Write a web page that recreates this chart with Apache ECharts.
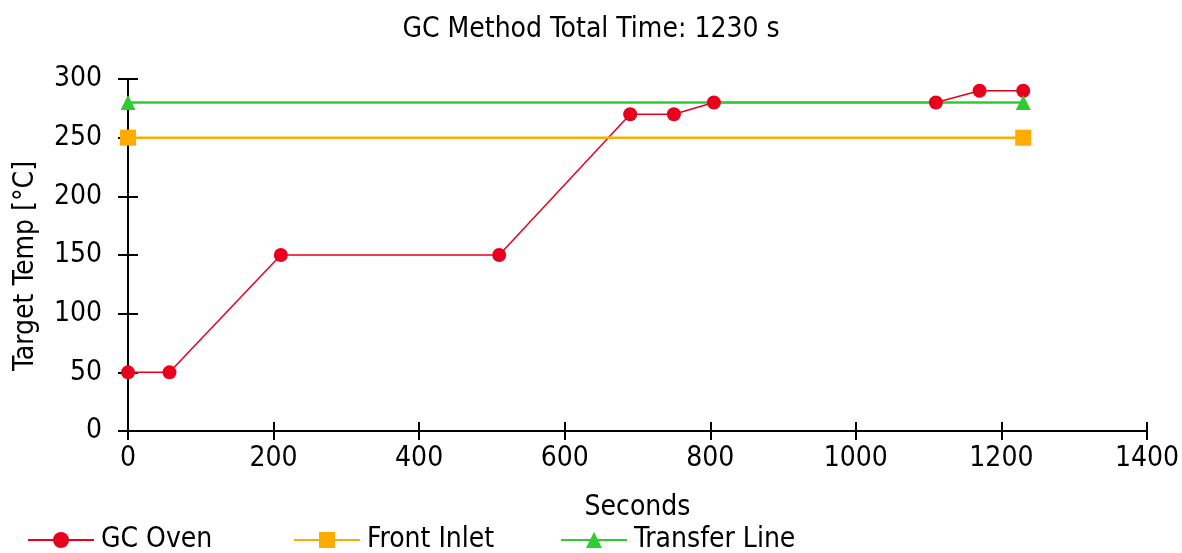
<!DOCTYPE html>
<html>
<head>
    <meta charset="UTF-8">
    <title>GC Method</title>
    <style>
        html, body { margin: 0; padding: 0; background: #fff; }
        #chart { width: 1182px; height: 553px; }
    </style>
    <script src="https://cdn.jsdelivr.net/npm/echarts@6/dist/echarts.min.js"></script>
</head>
<body>
<div id="chart"></div>
<script type="text/javascript">
    // 数据
    var ovenTime = [0, 57, 210, 510, 690, 750, 805, 1110, 1170, 1230];
    var ovenTemp = [50, 50, 150, 150, 270, 270, 280, 280, 290, 290];
    var inletTime = [0, 1230];
    var inletTemp = [250, 250];
    var transferTime = [0, 1230];
    var transferTemp = [280, 280];
    var xTicks = [0, 200, 400, 600, 800, 1000, 1200, 1400];
    var yTicks = [0, 50, 100, 150, 200, 250, 300];

    function pairs(xs, ys) {
        var out = [];
        for (var i = 0; i < xs.length; i++) out.push([xs[i], ys[i]]);
        return out;
    }

    var font = '"DejaVu Sans Condensed", "Liberation Sans", sans-serif';
    var fs = 28;
    var chart = echarts.init(document.getElementById('chart'));

    var gridBox = { left: 128, right: 35, top: 79, bottom: 122 };
    var legendText = { color: '#000', fontSize: fs, fontFamily: font, padding: [0, 0, 0, 2] };
    var tickStyle = { color: '#000', width: 2 };

    // 第二个网格只画向内的刻度，让刻度线穿过坐标轴
    function innerX() {
        return {
            type: 'value', gridIndex: 1,
            min: xTicks[0], max: xTicks[xTicks.length - 1], interval: 200,
            axisLine: { show: false },
            axisTick: { show: true, inside: true, length: 9, lineStyle: tickStyle },
            axisLabel: { show: false },
            splitLine: { show: false }
        };
    }
    function innerY() {
        return {
            type: 'value', gridIndex: 1,
            min: yTicks[0], max: yTicks[yTicks.length - 1], interval: 50,
            axisLine: { show: false },
            axisTick: { show: true, inside: true, length: 10, lineStyle: tickStyle },
            axisLabel: { show: false },
            splitLine: { show: false }
        };
    }

    var option = {
        animation: false,
        textStyle: { fontFamily: font },
        title: {
            text: 'GC Method Total Time: 1230 s',
            left: 'center',
            top: 11,
            textStyle: { color: '#000', fontSize: fs, fontWeight: 'normal', fontFamily: font }
        },
        legend: [
            { data: ['GC Oven'], left: 22, top: 521, itemWidth: 66, itemHeight: 20, textStyle: legendText },
            { data: ['Front Inlet'], left: 288, top: 521, itemWidth: 66, itemHeight: 20, textStyle: legendText },
            { data: ['Transfer Line'], left: 555, top: 521, itemWidth: 66, itemHeight: 20, textStyle: legendText }
        ],
        grid: [gridBox, gridBox],
        xAxis: [
            {
                type: 'value',
                min: xTicks[0],
                max: xTicks[xTicks.length - 1],
                interval: 200,
                name: 'Seconds',
                nameLocation: 'middle',
                nameGap: 63,
                nameTextStyle: { color: '#000', fontSize: fs, fontFamily: font },
                axisLine: { lineStyle: { color: '#000', width: 2 } },
                axisTick: { show: true, length: 9, lineStyle: tickStyle },
                axisLabel: {
                    color: '#000', fontSize: fs, margin: 14, fontFamily: font,
                    formatter: function (v) { return String(v); }
                },
                splitLine: { show: false }
            },
            innerX()
        ],
        yAxis: [
            {
                type: 'value',
                min: yTicks[0],
                max: yTicks[yTicks.length - 1],
                interval: 50,
                name: 'Target Temp [°C]',
                nameLocation: 'middle',
                nameGap: 88,
                nameTextStyle: { color: '#000', fontSize: fs, fontFamily: font, padding: [0, 22, 0, 0] },
                axisLine: { show: true, lineStyle: { color: '#000', width: 2 } },
                axisTick: { show: true, length: 10, lineStyle: tickStyle },
                axisLabel: { color: '#000', fontSize: fs, margin: 26, fontFamily: font },
                splitLine: { show: false }
            },
            innerY()
        ],
        series: [
            {
                name: 'GC Oven',
                type: 'line',
                data: pairs(ovenTime, ovenTemp),
                symbol: 'circle',
                symbolSize: 14,
                z: 3,
                itemStyle: { color: '#e8001c' },
                lineStyle: { color: '#e8001c', width: 1.5 }
            },
            {
                name: 'Front Inlet',
                type: 'line',
                data: pairs(inletTime, inletTemp),
                symbol: 'rect',
                symbolSize: 16,
                itemStyle: { color: '#ffab00' },
                lineStyle: { color: '#ffab00', width: 2.5 }
            },
            {
                name: 'Transfer Line',
                type: 'line',
                data: pairs(transferTime, transferTemp),
                symbol: 'triangle',
                symbolSize: 15,
                itemStyle: { color: '#2ecc2e' },
                lineStyle: { color: '#2ecc2e', width: 2.5 }
            }
        ]
    };

    chart.setOption(option);
</script>
</body>
</html>
